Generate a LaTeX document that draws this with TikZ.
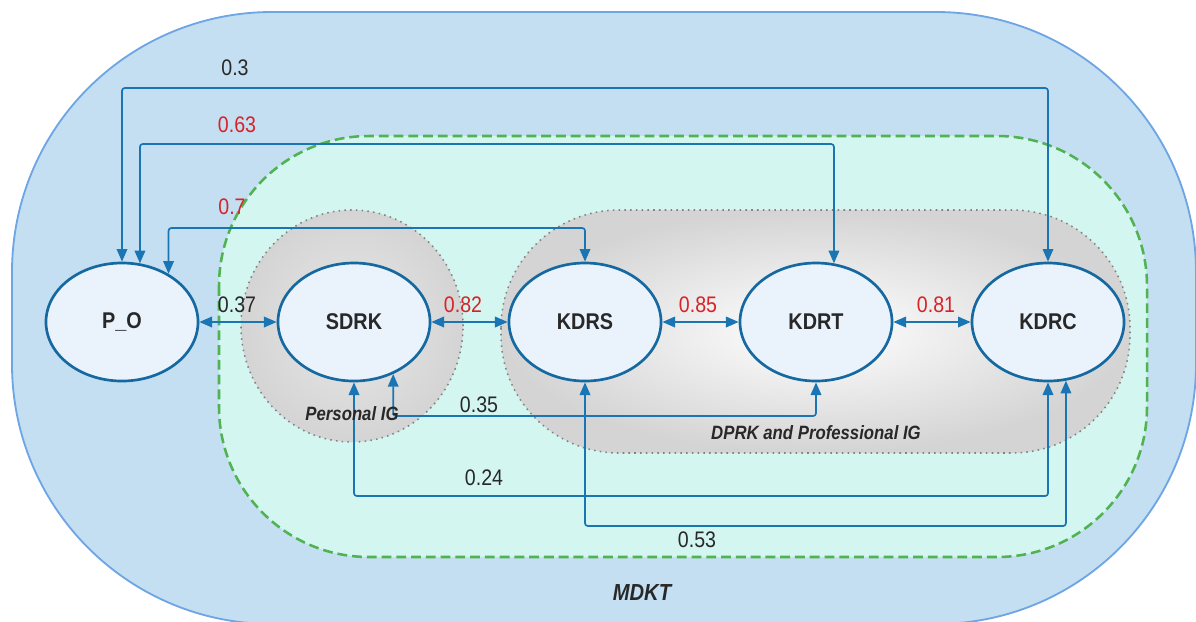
\documentclass[tikz,border=0pt]{standalone}
\usepackage{fontspec}
\setmainfont{Liberation Sans}[FakeStretch=0.87]
\usetikzlibrary{arrows.meta,shapes.geometric}

\definecolor{outerfill}{RGB}{195,223,241}
\definecolor{outerline}{RGB}{110,165,228}
\definecolor{groupfill}{RGB}{211,246,240}
\definecolor{groupline}{RGB}{80,178,80}
\definecolor{nodefill}{RGB}{234,243,252}
\definecolor{nodeline}{RGB}{22,105,160}
\definecolor{linkblue}{RGB}{25,117,180}
\definecolor{hired}{RGB}{215,35,40}
\definecolor{txt}{RGB}{40,40,40}
\definecolor{igray}{RGB}{212,212,212}
\definecolor{dotgray}{RGB}{130,130,130}

\begin{document}
\begin{tikzpicture}[x=0.025cm,y=-0.025cm,
  var/.style={ellipse, draw=nodeline, line width=1.9pt, fill=nodefill,
    minimum width=3.8cm, minimum height=2.95cm, inner sep=0pt,
    font=\fontsize{16.2}{19}\selectfont\bfseries, text=txt},
  conn/.style={draw=linkblue, line width=1.2pt, rounded corners=2pt,
    {Triangle[length=9pt,width=7.5pt]}-{Triangle[length=9pt,width=7.5pt]}},
  wt/.style={font=\fontsize{16}{19}\selectfont, text=txt, inner sep=0pt},
  wthi/.style={wt, text=hired},
  area/.style={font=\fontsize{13.7}{16}\selectfont\bfseries\itshape, text=txt, inner sep=0pt},
  ig/.style={draw=dotgray, line width=1.1pt, dash pattern=on 1.1pt off 3pt}]

\useasboundingbox (0,0) rectangle (1196,621);

% MDKT outer region
\draw[fill=outerfill, draw=outerline, line width=1.3pt, rounded corners=6.5cm]
  (12,12) rectangle (1196,624);

% inner dashed group
\draw[fill=groupfill, draw=groupline, line width=1.8pt, dash pattern=on 7pt off 3.5pt,
  rounded corners=3.75cm] (219,136) rectangle (1147,557);

% Personal IG
\shadedraw[ig, inner color=igray!55, outer color=igray] (352,326) ellipse [x radius=2.775cm, y radius=2.9cm];

% DPRK and Professional IG
\shadedraw[ig, inner color=white, outer color=igray, rounded corners=2.95cm]
  (501,210) rectangle (1130,453);

% variables
\node[var] (PO)   at (122,322)  {P\_O};
\node[var] (SDRK) at (354,322)  {SDRK};
\node[var] (KDRS) at (585,322)  {KDRS};
\node[var] (KDRT) at (816,322)  {KDRT};
\node[var] (KDRC) at (1048,322) {KDRC};

% neighbouring links
\draw[conn] (PO) -- (SDRK);
\draw[conn] (SDRK) -- (KDRS);
\draw[conn] (KDRS) -- (KDRT);
\draw[conn] (KDRT) -- (KDRC);

% links routed above
\draw[conn] (KDRC.north) -- (KDRC.north |- 0,88) -| (PO.north);
\draw[conn] (KDRT.73) -- (KDRT.73 |- 0,144) -| (PO.73);
\draw[conn] (KDRS.north) -- (KDRS.north |- 0,228) -| (PO.46);

% links routed below
\draw[conn] (KDRT.south) -- (KDRT.south |- 0,416) -| (SDRK.-53);
\draw[conn] (SDRK.south) -- (SDRK.south |- 0,496) -| (KDRC.south);
\draw[conn] (KDRS.south) -- (KDRS.south |- 0,526) -| (KDRC.-73);

% weights
\node[wt]   (w1) at (235,68)  {0.3};
\node[wthi] (w2) at (237,125) {0.63};
\node[wthi] (w3) at (232,207) {0.7};
\node[wt]   (w4) at (237,305) {0.37};
\node[wthi] (w5) at (463,305) {0.82};
\node[wthi] (w6) at (698,305) {0.85};
\node[wthi] (w7) at (936,305) {0.81};
\node[wt]   (w8) at (479,405) {0.35};
\node[wt]   (w9) at (484,478) {0.24};
\node[wt]   (w10) at (697,540) {0.53};

% region names
\node[area] (pig)  at (352,414) {Personal IG};
\node[area] (dig)  at (816,433) {DPRK and Professional IG};
\node[area, font=\fontsize{16.5}{19}\selectfont\bfseries\itshape] (mdkt) at (642,593) {MDKT};

\end{tikzpicture}
\end{document}
